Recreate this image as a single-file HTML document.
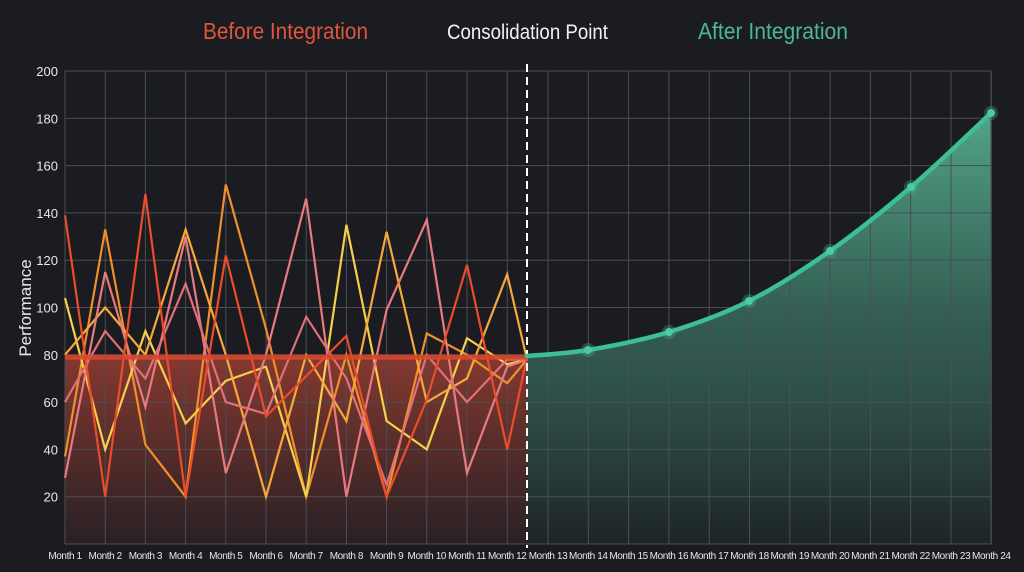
<!DOCTYPE html>
<html><head><meta charset="utf-8"><style>
html,body{margin:0;padding:0;background:#1b1c21;}
svg{display:block;font-family:"Liberation Sans",sans-serif;}
</style></head><body>
<svg id="s" width="1024" height="572" viewBox="0 0 1024 572" xmlns="http://www.w3.org/2000/svg">
<defs>
<linearGradient id="rg" x1="0" y1="0" x2="0" y2="1">
<stop offset="0" stop-color="#8a3a30" stop-opacity="0.95"/>
<stop offset="1" stop-color="#2a2125" stop-opacity="0.9"/>
</linearGradient>
<linearGradient id="gg" x1="0" y1="0" x2="0" y2="1">
<stop offset="0" stop-color="#5fc7a2" stop-opacity="0.8"/>
<stop offset="0.5" stop-color="#3f7d6a" stop-opacity="0.65"/>
<stop offset="1" stop-color="#1e2427" stop-opacity="0.9"/>
</linearGradient>
</defs>
<rect width="1024" height="572" fill="#1b1c21"/>
<g id="fills"></g>
<g id="grid" stroke="#4c4e55" stroke-width="1"></g>
<g id="lines"></g>
<g id="labels" fill="#e8e8e8"></g>
<text x="203" y="39" textLength="165" lengthAdjust="spacingAndGlyphs" font-size="23" fill="#e0553e">Before Integration</text>
<text x="447" y="39" textLength="161" lengthAdjust="spacingAndGlyphs" font-size="21" fill="#f2f2f2">Consolidation Point</text>
<text x="698" y="39" textLength="150" lengthAdjust="spacingAndGlyphs" font-size="23" fill="#4cb892">After Integration</text>
<text transform="translate(31,308) rotate(-90)" text-anchor="middle" font-size="17" fill="#e8e8e8">Performance</text>
</svg>
<script>
var NS="http://www.w3.org/2000/svg";
function el(p,t,a,txt){var e=document.createElementNS(NS,t);for(var k in a)e.setAttribute(k,a[k]);if(txt!=null)e.textContent=txt;document.getElementById(p).appendChild(e);return e;}
function Y(v){return 544-v*2.365;}
var xs=[];for(var i=0;i<12;i++)xs.push(65+i*40.2);for(var i=0;i<12;i++)xs.push(548+i*40.3);
el("fills","rect",{x:65,y:Y(79),width:462,height:544-Y(79),fill:"url(#rg)"});
var gp=[[527,356],[588,350],[669,332],[749,301],[830,251],[911,187],[991,113]];
function smooth(p){var d="M"+p[0][0]+","+p[0][1];for(var i=0;i<p.length-1;i++){var p0=p[i-1]||p[i],p1=p[i],p2=p[i+1],p3=p[i+2]||p2;
var c1x=p1[0]+(p2[0]-p0[0])/6,c1y=p1[1]+(p2[1]-p0[1])/6,c2x=p2[0]-(p3[0]-p1[0])/6,c2y=p2[1]-(p3[1]-p1[1])/6;
d+=" C"+c1x+","+c1y+" "+c2x+","+c2y+" "+p2[0]+","+p2[1];}return d;}
var cd=smooth(gp);
el("fills","path",{d:cd+" L991,544 L527,544 Z",fill:"url(#gg)"});
for(var v=20;v<=200;v+=20)el("grid","line",{x1:65,x2:991,y1:Y(v),y2:Y(v)});
xs.forEach(function(x){el("grid","line",{x1:x,x2:x,y1:Y(200),y2:544});});
el("grid","line",{x1:991,x2:991,y1:Y(200),y2:544});
el("grid","line",{x1:65,x2:991,y1:544,y2:544});
var S=[
["#f0902a",[37,133,42,20,152,91,20,80,20,89,80,68,78]],
["#f7cf4a",[104,40,90,51,69,75,20,135,52,40,87,76,78]],
["#f5a93a",[80,100,80,133,80,20,80,52,132,60,70,114,78]],
["#e87a7e",[28,115,58,130,30,80,146,20,99,137,30,75,78]],
["#e0707a",[60,90,70,110,60,55,96,70,25,80,60,78,78]],
["#ea4c2c",[139,20,148,20,122,54,71,88,20,61,118,40,79]]];
S.forEach(function(s){var d="";s[1].forEach(function(v,i){var x=i<12?xs[i]:527;d+=(i?" L":"M")+x+","+Y(v);});
el("lines","path",{d:d,fill:"none",stroke:s[0],"stroke-width":2.2,"stroke-linejoin":"miter"});});
el("lines","line",{x1:65,x2:527,y1:Y(79),y2:Y(79),stroke:"#d9482e","stroke-width":5,opacity:0.9});
el("lines","line",{x1:527,x2:527,y1:64,y2:548,stroke:"#ffffff","stroke-width":2,"stroke-dasharray":"8,5"});
el("lines","path",{d:cd,fill:"none",stroke:"#3dbf95","stroke-width":4.5,"stroke-linecap":"round"});
gp.slice(1).forEach(function(p){el("lines","circle",{cx:p[0],cy:p[1],r:7,fill:"#3dbf95",opacity:0.3});el("lines","circle",{cx:p[0],cy:p[1],r:4,fill:"#4fcaa0"});});
for(var v=20;v<=200;v+=20)el("labels","text",{x:58,y:Y(v)+5,"text-anchor":"end","font-size":13},v);
xs.forEach(function(x,i){el("labels","text",{x:x,y:559,"text-anchor":"middle","font-size":10,"letter-spacing":"-0.4"},"Month "+(i+1));});
</script>
</body></html>
